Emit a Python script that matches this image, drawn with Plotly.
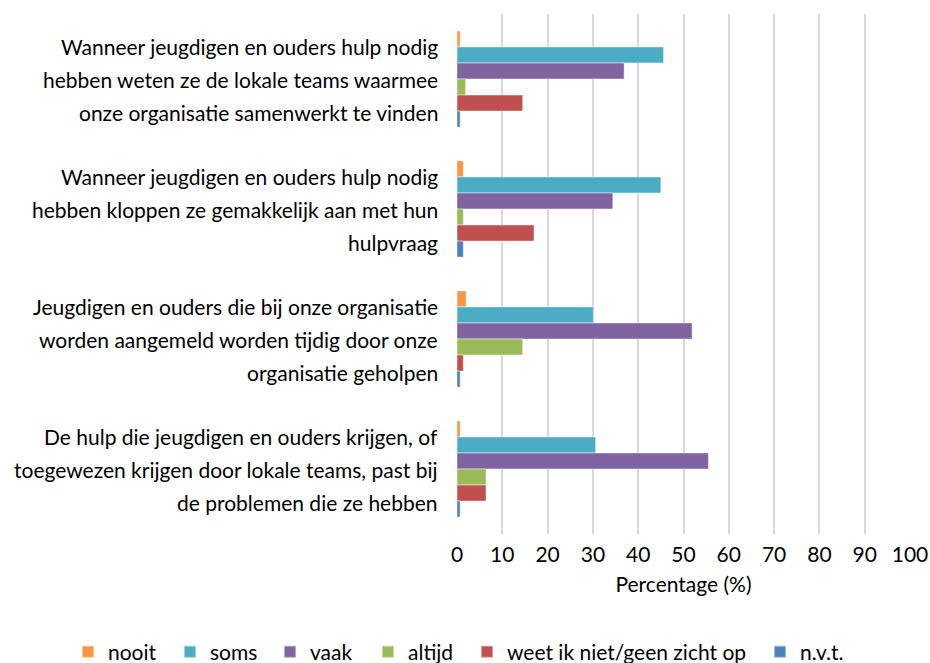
import plotly.graph_objects as go

categories = [
    "Wanneer jeugdigen en ouders hulp nodig|hebben weten ze de lokale teams waarmee|onze organisatie samenwerkt te vinden",
    "Wanneer jeugdigen en ouders hulp nodig|hebben kloppen ze gemakkelijk aan met hun|hulpvraag",
    "Jeugdigen en ouders die bij onze organisatie|worden aangemeld worden tijdig door onze|organisatie geholpen",
    "De hulp die jeugdigen en ouders krijgen, of|toegewezen krijgen door lokale teams, past bij|de problemen die ze hebben",
]
series_names = ["nooit", "soms", "vaak", "altijd", "weet ik niet/geen zicht op", "n.v.t."]
nooit = [0.7, 1.4, 2.0, 0.7]
soms = [45.6, 45.0, 30.1, 30.6]
vaak = [36.9, 34.4, 51.9, 55.5]
altijd = [1.9, 1.4, 14.5, 6.4]
weet = [14.5, 17.0, 1.4, 6.4]
nvt = [0.7, 1.4, 0.7, 0.7]
values = [nooit, soms, vaak, altijd, weet, nvt]
colors = ["#F79646", "#4BACC6", "#8064A2", "#9BBB59", "#C0504D", "#4F81BD"]
x_ticks = list(range(0, 101, 10))

# legend entry left edges (pixels in figure)
legend_left_px = [68, 170, 270, 368, 467, 760]

FONT = "Lato"
FS = 21
W, H = 930, 663
ML, MR, MT, MB = 457, 20, 14, 129
PW = W - ML - MR
PH = H - MT - MB

fig = go.Figure()
legend_layouts = {}
for k, (name, vals, col) in enumerate(zip(series_names, values, colors)):
    lname = "legend" if k == 0 else f"legend{k + 1}"
    fig.add_trace(go.Bar(
        y=list(range(len(categories))), x=vals, name=name, orientation="h",
        legend=lname, showlegend=True,
        marker=dict(color=col, line=dict(color="rgba(255,255,255,0.45)", width=1)),
    ))
    legend_layouts[lname] = dict(
        orientation="h", xref="paper", x=(legend_left_px[k] - ML) / PW, xanchor="left",
        yref="paper", y=-(652 - (MT + PH)) / PH, yanchor="middle",
        font=dict(family=FONT, size=FS, color="#000000"),
        itemwidth=30, itemsizing="constant", bgcolor="rgba(0,0,0,0)",
    )

annotations = []
for i, cat in enumerate(categories):
    lines = cat.split("|")
    for j, ln in enumerate(lines):
        annotations.append(dict(
            text=ln, xref="paper", yref="y", x=0, y=i, xanchor="right", yanchor="middle",
            xshift=-17, yshift=(1 - j) * 33, showarrow=False,
            font=dict(family=FONT, size=FS, color="#000000"),
        ))

fig.update_layout(
    width=W, height=H, showlegend=True,
    margin=dict(l=ML, r=MR, t=MT, b=MB, autoexpand=False),
    paper_bgcolor="white", plot_bgcolor="white",
    barmode="group", bargap=0.26, bargroupgap=0,
    font=dict(family=FONT, size=FS, color="#000000"),
    annotations=annotations,
    xaxis=dict(range=[0, 100], tickvals=x_ticks, showgrid=True, gridcolor="#D9D9D9",
               gridwidth=2, zeroline=False, showline=False, automargin=False,
               ticks="outside", ticklen=2, tickcolor="rgba(0,0,0,0)",
               title=dict(text="Percentage (%)", standoff=12,
                          font=dict(family=FONT, size=FS, color="#000000")),
               tickfont=dict(family=FONT, size=FS, color="#000000")),
    yaxis=dict(range=[-0.5, len(categories) - 0.5], autorange=False, showgrid=False,
               showticklabels=False, zeroline=False, showline=False, automargin=False),
    **legend_layouts,
)
fig.update_yaxes(autorange="reversed")
fig.write_html("out.html", config={"displayModeBar": False},
               post_script="document.body.style.margin='0';document.body.style.overflow='hidden';")
